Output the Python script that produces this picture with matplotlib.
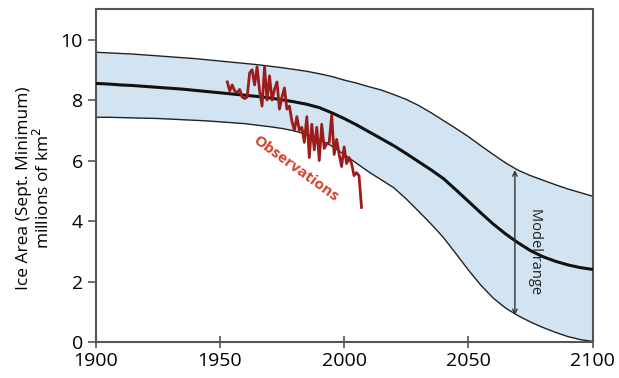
import matplotlib
matplotlib.use("Agg")
import matplotlib.pyplot as plt

# Model projections (every 5 years)
model_years = list(range(1900, 2101, 5))
model_upper = [9.58, 9.56, 9.54, 9.52, 9.49, 9.46, 9.43, 9.40, 9.37, 9.33,
               9.29, 9.25, 9.21, 9.17, 9.12, 9.07, 9.01, 8.95, 8.87, 8.78,
               8.66, 8.56, 8.44, 8.33, 8.18, 8.02, 7.82, 7.58, 7.32, 7.06,
               6.79, 6.49, 6.20, 5.92, 5.68, 5.50, 5.35, 5.20, 5.06, 4.94, 4.82]
model_mean = [8.55, 8.53, 8.50, 8.48, 8.45, 8.42, 8.39, 8.36, 8.32, 8.28,
              8.24, 8.20, 8.16, 8.12, 8.07, 8.01, 7.94, 7.86, 7.75, 7.58,
              7.39, 7.18, 6.95, 6.72, 6.49, 6.23, 5.96, 5.69, 5.40, 5.03,
              4.65, 4.27, 3.90, 3.57, 3.28, 3.02, 2.82, 2.67, 2.55, 2.46, 2.40]
model_lower = [7.43, 7.43, 7.42, 7.41, 7.40, 7.39, 7.37, 7.35, 7.33, 7.31,
               7.28, 7.25, 7.22, 7.17, 7.12, 7.06, 6.98, 6.86, 6.70, 6.48,
               6.20, 5.91, 5.62, 5.36, 5.10, 4.73, 4.32, 3.90, 3.45, 2.92,
               2.38, 1.88, 1.45, 1.12, 0.87, 0.66, 0.48, 0.32, 0.18, 0.08, 0.02]

# Observations
obs_years = list(range(1953, 2008))
obs_values = [8.6, 8.3, 8.5, 8.3, 8.25, 8.35, 8.1, 8.05, 8.1, 8.9,
              9.0, 8.5, 9.1, 8.3, 7.8, 9.1, 8.0, 8.8, 8.0, 8.35,
              8.6, 7.7, 8.1, 8.4, 7.7, 7.8, 7.3, 7.0, 7.45, 7.0,
              7.1, 6.6, 7.45, 6.1, 7.2, 6.35, 7.1, 6.0, 7.2, 6.4,
              6.55, 6.6, 7.5, 6.2, 6.7, 6.2, 5.8, 6.45, 5.9, 6.1,
              5.9, 5.5, 5.6, 5.5, 4.45]

x_ticks = [1900, 1950, 2000, 2050, 2100]
y_ticks = [0, 2, 4, 6, 8, 10]

plt.rcParams['font.family'] = ['Open Sans', 'DejaVu Sans']

fig = plt.figure(figsize=(6.19, 3.78), dpi=100)
ax = fig.add_axes([0.1543, 0.0952, 0.8032, 0.8802])

ax.fill_between(model_years, model_lower, model_upper, color='#d2e4f2', lw=0, zorder=1)
ax.plot(model_years, model_upper, color='#222222', lw=1.0, zorder=2)
ax.plot(model_years, model_lower, color='#222222', lw=1.0, zorder=2)
ax.plot(model_years, model_mean, color='#111111', lw=2.2, zorder=3)
ax.plot(obs_years, obs_values, color='#9c1c1c', lw=2.0, zorder=4)

ax.annotate('', xy=(2068.7, 5.68), xytext=(2068.7, 0.89),
            arrowprops=dict(arrowstyle='<->', color='#333333', lw=1.0,
                            shrinkA=0, shrinkB=0, mutation_scale=8), zorder=5)
ax.text(2076.8, 3.0, 'Model range', rotation=-90, ha='center', va='center',
        fontsize=10.5, color='#222222', zorder=5)
ax.text(1980.3, 5.72, 'Observations', rotation=-36, ha='center', va='center',
        fontsize=11, fontweight='bold', color='#d4402c', rotation_mode='anchor', zorder=5)

ax.set_xlim(1900, 2100)
ax.set_ylim(0, 11)
ax.set_xticks(x_ticks)
ax.set_yticks(y_ticks)
ax.tick_params(axis='x', direction='inout', length=9, width=1.2, color='#555555',
               labelsize=14, pad=3)
ax.tick_params(axis='y', direction='out', length=6, width=1.2, color='#555555',
               labelsize=14, pad=3)
for sp in ax.spines.values():
    sp.set_color('#555555')
    sp.set_linewidth(1.5)

ax.set_ylabel('Ice Area (Sept. Minimum)\nmillions of km$^2$', fontsize=12.5,
              linespacing=1.05)
ax.yaxis.set_label_coords(-0.085, 0.463)

fig.savefig('out.png', dpi=100)
